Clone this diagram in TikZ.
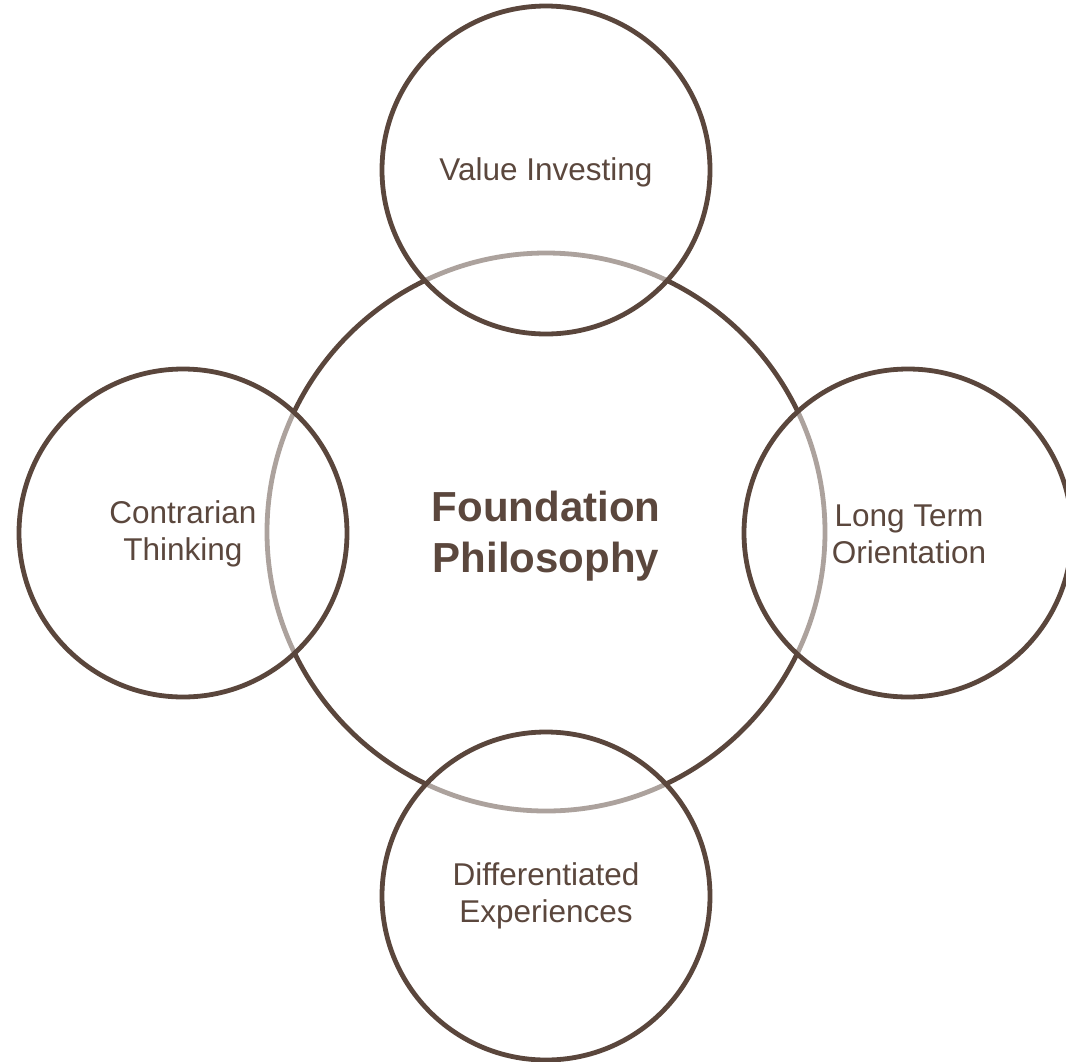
\documentclass[tikz,border=0pt]{standalone}
\usepackage{fontspec}
\setmainfont{Liberation Sans}
\definecolor{brownline}{HTML}{5A463C}
\definecolor{browntext}{HTML}{5B473D}
\tikzset{
  bigcirc/.style={circle, draw=brownline, line width=4.8pt, minimum size=558pt, inner sep=0pt},
  smallcirc/.style={circle, draw=brownline, line width=4.8pt, fill=white, fill opacity=0.5, draw opacity=1, minimum size=328pt, inner sep=0pt},
  lbl/.style={text=browntext, align=center, font=\fontsize{31.5}{37}\selectfont, inner sep=0pt},
  mainlbl/.style={text=browntext, align=center, font=\fontsize{42}{51}\bfseries\selectfont, inner sep=0pt}
}
\begin{document}
\begin{tikzpicture}[x=1pt,y=-1pt]
\useasboundingbox (0,0) rectangle (1066,1061);
\clip (0,0) rectangle (1066,1061);
\node[bigcirc] (center) at (546,532) {};
\node[smallcirc] (top) at (546,170) {};
\node[smallcirc] (left) at (183,533) {};
\node[smallcirc] (right) at (908,533) {};
\node[smallcirc] (bottom) at (546,896) {};
\node[mainlbl] (ctext) at (546,536) {Foundation\\Philosophy};
\node[lbl] (ttext) at (546,172) {Value Investing};
\node[lbl] (ltext) at (183,534) {Contrarian\\Thinking};
\node[lbl] (rtext) at (909,534) {Long Term\\Orientation};
\node[lbl] (btext) at (546,896) {Differentiated\\Experiences};
\end{tikzpicture}
\end{document}
